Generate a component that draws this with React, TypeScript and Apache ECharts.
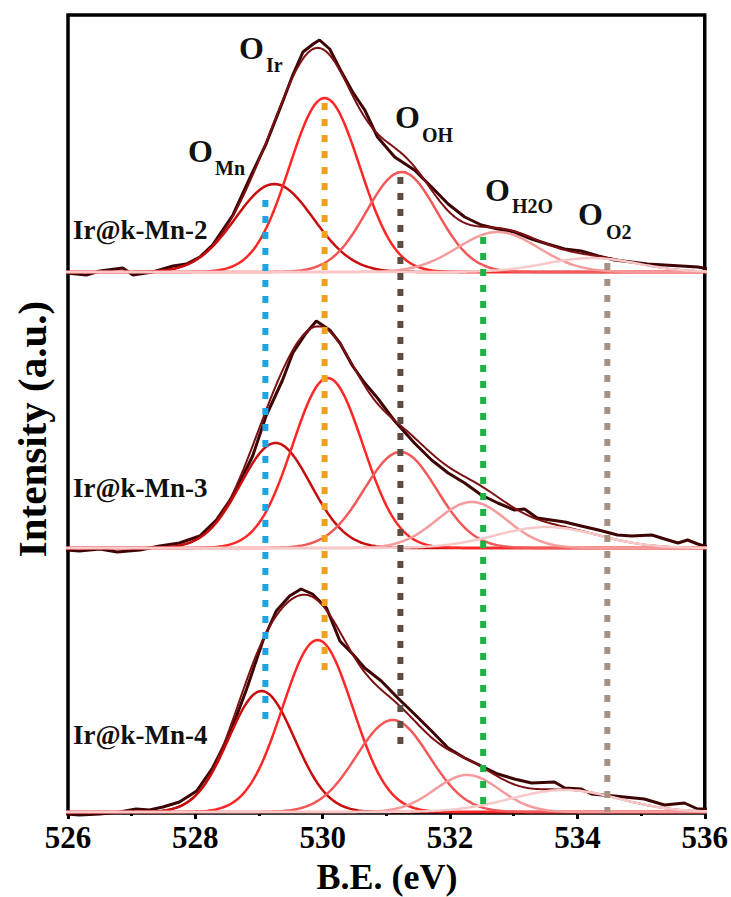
import React, { useEffect, useRef } from "react";
import * as echarts from "echarts";

// ---- data -------------------------------------------------------------
const xTicks = [526, 528, 530, 532, 534, 536];
const sampleNames = ["Ir@k-Mn-2", "Ir@k-Mn-3", "Ir@k-Mn-4"];
// vertical offset of each stacked spectrum (a.u.)
const stackOffsets = [540, 264, 0];

// measured O 1s spectra: [binding energy (eV), intensity above baseline]
const rawMn2 = [
  [525.95, -1], [526.29, -3], [526.5, 1], [526.86, 4], [527.02, -3], [527.33, 0],
  [527.65, 6], [527.86, 8], [528.07, 15], [528.27, 27], [528.59, 57], [528.9, 100],
  [529.11, 128], [529.37, 170], [529.53, 197], [529.69, 220], [529.85, 228], [529.95, 232],
  [530.11, 223], [530.27, 203], [530.47, 180], [530.66, 162], [530.86, 135], [531.13, 115],
  [531.44, 102], [531.71, 85], [531.97, 68], [532.23, 55], [532.49, 47], [532.75, 43],
  [533.01, 40], [533.28, 33], [533.53, 28], [533.8, 23], [534.06, 21], [534.33, 16],
  [534.58, 12], [534.85, 10], [535.1, 8], [535.37, 7], [535.63, 6], [535.89, 5], [536.05, 3],
];
const rawMn3 = [
  [525.95, -2], [526.18, -3], [526.5, -1], [526.77, -4], [527.13, -2], [527.44, 2],
  [527.75, 5], [528.07, 12], [528.33, 28], [528.59, 52], [528.9, 92], [529.11, 132],
  [529.37, 168], [529.53, 195], [529.74, 215], [529.9, 227], [530.11, 218], [530.27, 205],
  [530.47, 182], [530.66, 165], [530.86, 150], [531.13, 127], [531.44, 105], [531.71, 88],
  [531.97, 75], [532.23, 65], [532.49, 53], [532.75, 45], [533.01, 38], [533.17, 39],
  [533.37, 30], [533.8, 26], [534.06, 22], [534.33, 18], [534.63, 13], [534.85, 12],
  [535.17, 13], [535.37, 9], [535.58, 5], [535.73, 8], [535.89, 4], [536.05, 1],
];
const rawMn4 = [
  [525.95, -2], [526.18, -3], [526.5, -2], [526.81, 0], [527.07, 3], [527.28, 2],
  [527.49, 5], [527.75, 10], [528.02, 21], [528.27, 44], [528.54, 78], [528.8, 122],
  [529.06, 171], [529.27, 201], [529.48, 216], [529.66, 223], [529.84, 218], [530.06, 204],
  [530.27, 171], [530.47, 158], [530.66, 144], [530.92, 131], [531.18, 114], [531.44, 98],
  [531.71, 81], [531.97, 64], [532.23, 54], [532.49, 46], [532.75, 38], [533.01, 33],
  [533.28, 29], [533.64, 30], [533.8, 24], [534.06, 23], [534.22, 18], [534.58, 16],
  [535.05, 13], [535.37, 7], [535.68, 9], [535.89, 3], [536.05, 3],
];

// fitted components O_Mn, O_Ir, O_OH, O_H2O, O_O2 (Gaussian: centre, height, FWHM)
const centresMn2 = [529.24, 530.03, 531.24, 532.75, 534.22];
const heightsMn2 = [88, 174, 100, 40, 14];
const fwhmMn2 = [1.45, 1.3, 1.3, 1.5, 1.7];

const centresMn3 = [529.26, 530.08, 531.22, 532.34, 533.52];
const heightsMn3 = [105, 170, 96, 46, 21];
const fwhmMn3 = [1.3, 1.3, 1.35, 1.3, 1.9];

const centresMn4 = [529.04, 529.92, 531.1, 532.27, 533.8];
const heightsMn4 = [121, 172, 92, 37, 22];
const fwhmMn4 = [1.22, 1.3, 1.35, 1.2, 2.0];

// reference positions of each oxygen species (dotted guides)
const guideEnergies = [529.1, 530.03, 531.22, 532.52, 534.47];
const guideTop = [612, 709, 635, 575, 549];
const guideBottom = [89, 134, 64, 0, 0];

// ---- styling ----------------------------------------------------------
const SERIF = "'Liberation Serif', 'Times New Roman', serif";
const componentColors = ["#c90c0c", "#ff2626", "#f25858", "#f59b9b", "#f8c7c7"];
const guideColors = ["#1ba3e3", "#f2a11c", "#5c4c41", "#1fb144", "#a99182"];
const rawColor = "#3e0404";
const fitColor = "#7c1012";

const spectra = [rawMn2, rawMn3, rawMn4];
const centres = [centresMn2, centresMn3, centresMn4];
const heights = [heightsMn2, heightsMn3, heightsMn4];
const widths = [fwhmMn2, fwhmMn3, fwhmMn4];

const energyGrid: number[] = [];
for (let i = 0; i <= 255; i++) energyGrid.push(+(525.92 + i * 0.04).toFixed(2));

const gauss = (e: number, c: number, h: number, w: number) =>
  h * Math.exp((-4 * Math.LN2 * (e - c) * (e - c)) / (w * w));

function buildSeries() {
  const series: any[] = [];
  spectra.forEach((raw, p) => {
    const off = stackOffsets[p];
    series.push({
      type: "line",
      name: sampleNames[p],
      data: raw.map(([e, v]) => [e, v + off]),
      showSymbol: false,
      symbol: "none",
      clip: false,
      z: 2,
      lineStyle: { color: rawColor, width: 3 },
    });
    series.push({
      type: "line",
      name: sampleNames[p] + " fit",
      data: energyGrid.map((e) => {
        let s = 0;
        centres[p].forEach((c, k) => (s += gauss(e, c, heights[p][k], widths[p][k])));
        return [e, s + off];
      }),
      showSymbol: false,
      symbol: "none",
      clip: false,
      z: 3,
      lineStyle: { color: fitColor, width: 2 },
    });
    centres[p].forEach((c, k) => {
      series.push({
        type: "line",
        data: energyGrid.map((e) => [e, gauss(e, c, heights[p][k], widths[p][k]) + off]),
        showSymbol: false,
        symbol: "none",
        clip: false,
        z: 4,
        lineStyle: { color: componentColors[k], width: 2.5 },
      });
    });
  });
  guideEnergies.forEach((e, k) => {
    series.push({
      type: "line",
      data: [
        [e, guideTop[k]],
        [e, guideBottom[k]],
      ],
      showSymbol: false,
      symbol: "none",
      z: 5,
      lineStyle: { color: guideColors[k], width: 6, type: [7, 9], cap: "butt" },
    });
  });
  return series;
}

function peakLabel(main: string, sub: string, x: number, y: number, sx: number, sy: number) {
  return [
    {
      type: "text",
      x,
      y,
      z: 10,
      style: { text: main, font: `bold 32px ${SERIF}`, fill: "#111", align: "left", verticalAlign: "middle" },
    },
    {
      type: "text",
      x: sx,
      y: sy,
      z: 10,
      style: { text: sub, font: `bold 20px ${SERIF}`, fill: "#111", align: "left", verticalAlign: "middle" },
    },
  ];
}

export default function App() {
  const ref = useRef<HTMLDivElement>(null);

  useEffect(() => {
    if (!ref.current) return;
    const chart = echarts.init(ref.current, undefined, { renderer: "svg" });
    const sampleLabelY = [230, 488, 735];
    chart.setOption({
      animation: false,
      backgroundColor: "#ffffff",
      grid: {
        left: 68,
        right: 26,
        top: 15,
        bottom: 84,
        show: true,
        borderColor: "#000",
        borderWidth: 3.5,
        backgroundColor: "transparent",
      },
      xAxis: {
        type: "value",
        min: xTicks[0],
        max: xTicks[xTicks.length - 1],
        interval: 2,
        axisLine: { show: false },
        axisTick: { show: true, inside: false, length: 7, lineStyle: { color: "#000", width: 3 } },
        minorTick: { show: true, splitNumber: 2, length: 4, lineStyle: { color: "#000", width: 3 } },
        splitLine: { show: false },
        axisLabel: {
          margin: 9,
          color: "#000",
          fontFamily: "Liberation Serif",
          fontWeight: "bold",
          fontSize: 31,
        },
      },
      yAxis: {
        type: "value",
        min: -1,
        max: 797,
        axisLine: { show: false },
        axisTick: { show: false },
        axisLabel: { show: false },
        splitLine: { show: false },
      },
      series: buildSeries(),
      graphic: [
        {
          type: "text",
          x: 32,
          y: 429,
          rotation: Math.PI / 2,
          style: {
            text: "Intensity (a.u.)",
            font: `bold 41px ${SERIF}`,
            fill: "#000",
            align: "center",
            verticalAlign: "middle",
          },
        },
        {
          type: "text",
          x: 387,
          y: 877,
          style: {
            text: "B.E. (eV)",
            font: `bold 36px ${SERIF}`,
            fill: "#000",
            align: "center",
            verticalAlign: "middle",
          },
        },
        ...sampleNames.map((n, i) => ({
          type: "text",
          x: 73,
          y: sampleLabelY[i],
          z: 10,
          style: { text: n, font: `bold 27px ${SERIF}`, fill: "#111", align: "left", verticalAlign: "middle" },
        })),
        ...peakLabel("O", "Mn", 188, 151, 215, 168),
        ...peakLabel("O", "Ir", 239, 48, 266, 65),
        ...peakLabel("O", "OH", 395, 117, 422, 135),
        ...peakLabel("O", "H2O", 485, 190, 512, 206),
        ...peakLabel("O", "O2", 578, 214, 606, 232),
      ],
    });
    return () => chart.dispose();
  }, []);

  return (
    <div
      ref={ref}
      style={{ position: "fixed", left: 0, top: 0, width: 731, height: 897, background: "#fff" }}
    />
  );
}
